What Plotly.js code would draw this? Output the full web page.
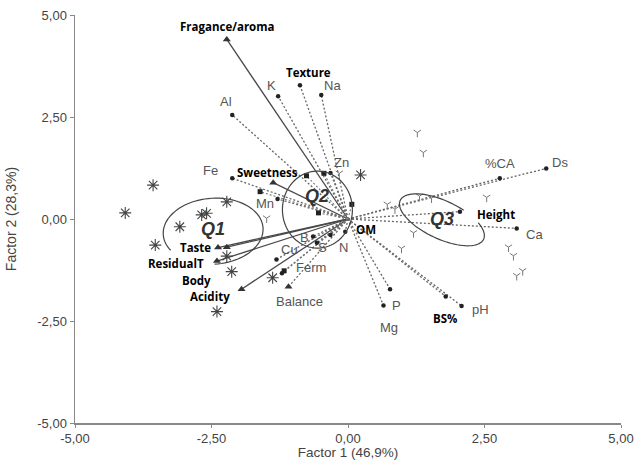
<!DOCTYPE html>
<html>
<head>
<meta charset="utf-8">
<script src="https://cdn.plot.ly/plotly-3.0.1.min.js"></script>
<style>html,body{margin:0;padding:0;background:#fff;}#chart{width:642px;height:460px;}</style>
</head>
<body>
<div id="chart"></div>
<script>
// ---------- DATA ----------
// Vectors (loadings) ending points
const vecNames = ['Fragance/aroma','Sweetness','Taste','Body','ResidualT','Acidity','Balance',
  'K','Al','Texture','Na','Fe','Mn','Zn','B','S','N','OM','Cu','Ferm','P','Mg','BS%','pH','Ca','Height','%CA','Ds'];
const vecX = [-2.22,-1.37,-2.38,-2.22,-2.40,-1.95,-1.09,
  -1.28,-2.12,-0.88,-0.49,-2.12,-1.29,-0.32,-0.64,-0.57,-0.32,-0.05,-1.31,-1.21,0.77,0.65,1.79,2.08,3.09,2.05,2.78,3.63];
const vecY = [4.40,0.89,-0.70,-0.69,-1.03,-1.72,-1.66,
  3.01,2.55,3.28,3.04,1.00,0.49,1.13,-0.43,-0.58,-0.39,-0.31,-0.99,-1.33,-1.72,-2.12,-1.90,-2.13,-0.23,0.18,1.00,1.24];
// Extra unlabeled vectors
const extraX = [-1.61,-0.76,-0.44,-0.54,0.07,-1.17];
const extraY = [0.67,1.06,1.12,0.15,0.36,-1.27];
// Sample scores
const q1X = [-3.57,-4.08,-3.08,-3.53,-2.68,-2.59,-2.22,-2.22,-2.13,-2.40,-1.38,0.23];
const q1Y = [0.83,0.15,-0.19,-0.64,0.10,0.14,0.42,-0.91,-1.29,-2.27,-1.44,1.08];
const q3X = [1.27,1.38,2.54,2.94,3.03,3.20,3.09,0.98,1.20,0.72,0.86,1.31,1.53,-1.49,-0.16];
const q3Y = [2.12,1.63,0.53,-0.69,-0.90,-1.27,-1.39,-0.72,-0.34,0.36,0.24,0.56,0.51,0.02,1.12];
// Groups
const groupNames = ['Q1','Q2','Q3'];
const groupX = [-2.47,-0.57,1.72];
const groupY = [-0.25,0.56,-0.01];
// Axis ticks
const tickVals = [-5,-2.5,0,2.5,5];
const tickText = ['-5,00','-2,50','0,00','2,50','5,00'];

// ---------- STYLE / LAYOUT ----------
const vecKind = ['s','s','s','s','s','s','b',
  'c','c','c','c','c','c','c','c','c','c','c','c','c','c','c','c','c','c','c','c','c'];
const boldLabel = {'Fragance/aroma':1,'Sweetness':1,'Taste':1,'Body':1,'ResidualT':1,'Acidity':1,'Texture':1,'OM':1,'Height':1,'BS%':1};
const labelX = [-2.20,-1.47,-2.80,-2.77,-3.15,-2.53,-0.88,
  -1.41,-2.23,-0.73,-0.29,-2.51,-1.52,-0.11,-0.79,-0.46,-0.09,0.33,-1.08,-0.68,0.88,0.75,1.78,2.42,3.42,2.71,2.78,3.88];
const labelY = [4.71,1.15,-0.70,-1.51,-1.09,-1.90,-2.03,
  3.26,2.88,3.58,3.26,1.20,0.39,1.38,-0.46,-0.71,-0.69,-0.25,-0.74,-1.20,-2.11,-2.65,-2.43,-2.23,-0.37,0.10,1.35,1.39];
const M = {l:75, r:21, t:15, b:37};
const W = 642, H = 460;
const pxX = (W - M.l - M.r) / 10, pxY = (H - M.t - M.b) / 10;
// ellipses: center data, radii px, angle deg, arc start/end deg
const ell = [
  {cx:-2.47, cy:-0.30, rx:50, ry:33, a:-4, t0:151, t1:452},
  {cx:-0.56, cy:0.23, rx:35, ry:38.5, a:0, t0:0, t1:360},
  {cx:1.72, cy:-0.02, rx:46, ry:19, a:25, t0:-42, t1:293}
];
function ellPath(e){
  const pts=[]; const ar=e.a*Math.PI/180;
  for(let t=e.t0;t<=e.t1;t+=4){
    const r=t*Math.PI/180;
    const u=e.rx*Math.cos(r), v=e.ry*Math.sin(r);
    const dx=u*Math.cos(ar)-v*Math.sin(ar), dy=u*Math.sin(ar)+v*Math.cos(ar);
    pts.push([e.cx+dx/pxX, e.cy-dy/pxY]);
  }
  return 'M'+pts.map(p=>p[0].toFixed(4)+','+p[1].toFixed(4)).join('L');
}

function segs(xs, ys, filt){
  const x=[], y=[];
  xs.forEach((v,i)=>{ if(filt(i)){ x.push(0,v,null); y.push(0,ys[i],null);} });
  return {x,y};
}
const solid = segs(vecX, vecY, i=>vecKind[i]==='s');
const dotted = segs(vecX, vecY, i=>vecKind[i]!=='s');
const extraSeg = segs(extraX, extraY, ()=>true);

const pick = (arr, f) => arr.filter((_,i)=>f(i));
const traces = [
  {x:solid.x, y:solid.y, mode:'lines', line:{color:'#4a4a4a', width:1.3}, hoverinfo:'skip'},
  {x:dotted.x, y:dotted.y, mode:'lines', line:{color:'#666', width:1.3, dash:'2px,2px'}, hoverinfo:'skip'},
  {x:extraSeg.x, y:extraSeg.y, mode:'lines', line:{color:'#777', width:1.1, dash:'2px,2px'}, hoverinfo:'skip'},
  {x:pick(vecX,i=>vecKind[i]!=='c'), y:pick(vecY,i=>vecKind[i]!=='c'), mode:'markers',
   marker:{symbol:'triangle-up', size:7, color:'#333'}},
  {x:pick(vecX,i=>vecKind[i]==='c'), y:pick(vecY,i=>vecKind[i]==='c'), mode:'markers',
   marker:{symbol:'circle', size:4.5, color:'#222'}},
  {x:extraX, y:extraY, mode:'markers', marker:{symbol:'square', size:5, color:'#222'}},
  {x:q1X, y:q1Y, mode:'markers', marker:{symbol:'asterisk-open', size:10, color:'#444', line:{width:1.1, color:'#444'}}},
  {x:q3X, y:q3Y, mode:'markers', marker:{symbol:'y-down-open', size:6, color:'#777', line:{width:1, color:'#777'}}}
];

const annotations = vecNames.map((n,i)=>({
  x:labelX[i], y:labelY[i], xref:'x', yref:'y', text:n, showarrow:false,
  font: boldLabel[n] ? {family:'Open Sans, sans-serif', size:11.5, color:'#000', weight:'bold'}
                     : {family:'Liberation Sans, Arial, sans-serif', size:13, color:'#555'}
}));
groupNames.forEach((g,i)=>annotations.push({
  x:groupX[i], y:groupY[i], xref:'x', yref:'y', text:'<b><i>'+g+'</i></b>', showarrow:false,
  font:{family:'Liberation Sans, Arial, sans-serif', size:18, color:'#333'}
}));

const axisCommon = {
  range:[-5,5], tickvals:tickVals, ticktext:tickText, showgrid:false, zeroline:false,
  showline:true, linecolor:'#888', linewidth:1.5, ticks:'outside', ticklen:4, tickcolor:'#888',
  tickfont:{family:'Liberation Sans, Arial, sans-serif', size:13, color:'#444'}, automargin:false
};
const layout = {
  width:W, height:H, margin:M, showlegend:false,
  paper_bgcolor:'#fff', plot_bgcolor:'#fff',
  xaxis:Object.assign({}, axisCommon, {ticklen:3, title:{text:'Factor 1 (46,9%)', font:{family:'Liberation Sans, Arial, sans-serif', size:13.5, color:'#444'}, standoff:5}}),
  yaxis:Object.assign({}, axisCommon, {title:{text:'Factor 2 (28,3%)', font:{family:'Liberation Sans, Arial, sans-serif', size:14, color:'#444'}, standoff:17}}),
  shapes: ell.map(e=>({type:'path', path:ellPath(e), xref:'x', yref:'y', line:{color:'#444', width:1.2}})),
  annotations
};
Plotly.newPlot('chart', traces, layout, {displayModeBar:false, staticPlot:true});
</script>
</body>
</html>
